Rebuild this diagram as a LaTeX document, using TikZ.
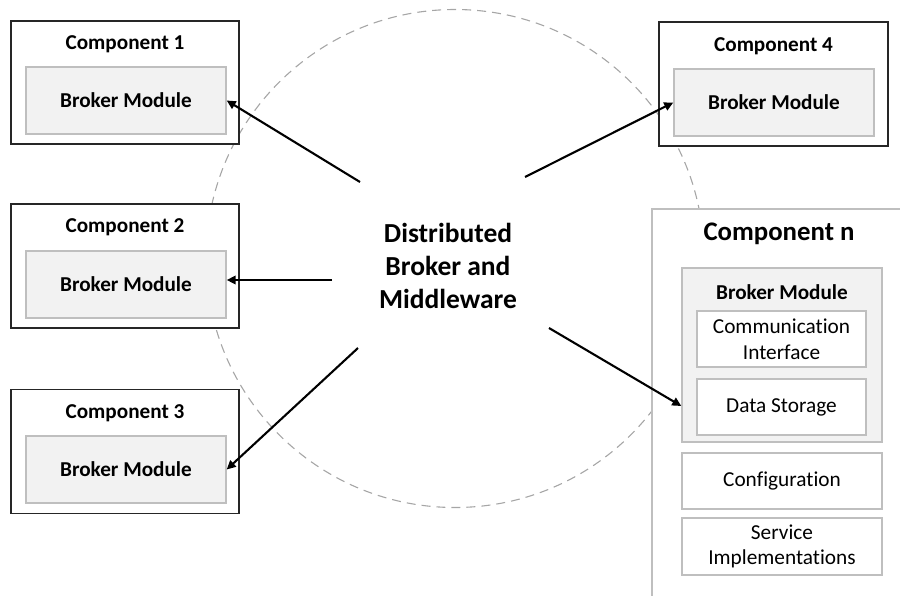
\documentclass[tikz,border=0pt]{standalone}
\usepackage{fontspec}
\setmainfont{Carlito}[Ligatures={NoCommon}]
\usetikzlibrary{arrows.meta}
\definecolor{inbord}{HTML}{BFBFBF}
\definecolor{infill}{HTML}{F2F2F2}
\definecolor{ringc}{HTML}{A6A6A6}
\begin{document}
\begin{tikzpicture}[x=1pt,y=-1pt,
  outerbox/.style={draw=black!85, line width=1.6pt, fill=white, inner sep=0pt},
  innerbox/.style={draw=inbord, line width=1.4pt, fill=infill, inner sep=0pt, align=center,
     font=\fontsize{21.2}{25}\selectfont\bfseries},
  partbox/.style={draw=inbord, line width=1.4pt, fill=white, inner sep=0pt, align=center,
     font=\fontsize{21.3}{25.5}\selectfont},
  ttl/.style={inner sep=0pt, font=\fontsize{21.2}{25}\selectfont\bfseries},
  conn/.style={draw=black, line width=2.1pt, -{Triangle[length=9pt,width=8.5pt]}}
]
\useasboundingbox (0,0) rectangle (900,595);
\clip (0,0) rectangle (900,595);

% ring
\node[draw=ringc, line width=1.1pt, dash pattern=on 9pt off 6pt, circle, minimum size=498pt, inner sep=0pt] (ring) at (455,258.5) {};

% Component 1
\node[outerbox, minimum width=228pt, minimum height=123pt] (c1) at (125,82.5) {};
\node[ttl] (c1t) at (125,44) {Component 1};
\node[innerbox, minimum width=200pt, minimum height=67pt] (c1b) at (126,100.5) {Broker Module};

% Component 2
\node[outerbox, minimum width=228pt, minimum height=124pt] (c2) at (125,266) {};
\node[ttl] (c2t) at (125,227) {Component 2};
\node[innerbox, minimum width=200pt, minimum height=67pt] (c2b) at (126,284.5) {Broker Module};

% Component 3
\node[outerbox, minimum width=228pt, minimum height=124pt] (c3) at (125,451.5) {};
\node[ttl] (c3t) at (125,413) {Component 3};
\node[innerbox, minimum width=200pt, minimum height=67pt] (c3b) at (126,469.5) {Broker Module};

% Component 4
\node[outerbox, minimum width=229pt, minimum height=124pt] (c4) at (773.5,84) {};
\node[ttl] (c4t) at (773.5,46) {Component 4};
\node[innerbox, minimum width=200pt, minimum height=67pt] (c4b) at (774,102.5) {Broker Module};

% Component n
\node[draw=inbord, line width=1.4pt, fill=white, inner sep=0pt, minimum width=256pt, minimum height=400pt] (cn) at (780,409) {};
\node[inner sep=0pt, font=\fontsize{26.8}{31}\selectfont\bfseries] (cnt) at (779,234) {Component n};
\node[draw=inbord, line width=1.4pt, fill=infill, inner sep=0pt, minimum width=200pt, minimum height=174pt] (bmn) at (782,355) {};
\node[ttl] (bmnt) at (782,292) {Broker Module};
\node[partbox, minimum width=169pt, minimum height=56pt] (comm) at (781.5,339) {Communication\\Interface};
\node[partbox, minimum width=169pt, minimum height=56pt] (data) at (781.5,407) {Data Storage};
\node[partbox, minimum width=200pt, minimum height=56pt] (conf) at (782,481) {Configuration};
\node[partbox, minimum width=200pt, minimum height=57pt] (serv) at (782,546.5) {Service\\Implementations};

% center text
\node[inner sep=0pt, align=center, font=\fontsize{27.5}{33}\selectfont\bfseries] (mid) at (448,266) {Distributed\\Broker and\\Middleware};

% connector start points
\coordinate (s1) at (360,182);
\coordinate (s2) at (332,280);
\coordinate (s3) at (358,348);
\coordinate (s4) at (525,177);
\coordinate (s5) at (549,328);

\draw[conn] (s1) -- (c1b.east);
\draw[conn] (s2) -- (c2b.east |- s2);
\draw[conn] (s3) -- (c3b.east);
\draw[conn] (s4) -- (c4b.west);
\draw[conn] (s5) -- (bmn.west |- 0,406);
\end{tikzpicture}
\end{document}
